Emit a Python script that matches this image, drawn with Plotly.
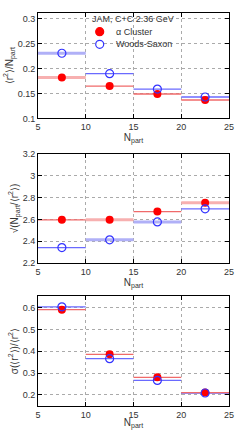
import plotly.graph_objects as go

bin_edges = [5, 10, 15, 20, 25]
centers = [7.5, 12.5, 17.5, 22.5]

r2_alpha = [0.182, 0.165, 0.149, 0.137]
r2_ws = [0.231, 0.190, 0.159, 0.143]
sq_alpha = [2.596, 2.596, 2.672, 2.752]
sq_ws = [2.341, 2.412, 2.577, 2.697]
sig_alpha = [0.592, 0.386, 0.280, 0.210]
sig_ws = [0.605, 0.366, 0.266, 0.208]

legend_labels = ["α Cluster", "Woods-Saxon"]
header = "JAM, C+C 2.36 GeV"

# which bins get the pale wide band (per panel, per series)
pale = {
    (1, "a"): [1, 0, 0, 0], (1, "w"): [1, 0, 0, 0],
    (2, "a"): [0, 1, 0, 1], (2, "w"): [0, 1, 1, 0],
    (3, "a"): [0, 0, 0, 0], (3, "w"): [0, 0, 0, 0],
}

RED = "#ff0000"
BLUE = "#3333ff"
RED_L = "#f06a6a"
BLUE_L = "#6a6aff"
RED_P = "#f7b0b0"
BLUE_P = "#b0b0f7"

fig = go.Figure()

panels = [
    (1, r2_alpha, r2_ws),
    (2, sq_alpha, sq_ws),
    (3, sig_alpha, sig_ws),
]

for p, ya, yw in panels:
    xa = "x" if p == 1 else f"x{p}"
    ya_ax = "y" if p == 1 else f"y{p}"
    for key, vals, cthin, cpale in [("w", yw, BLUE_L, BLUE_P), ("a", ya, RED_L, RED_P)]:
        for i in range(4):
            isp = pale[(p, key)][i]
            fig.add_trace(go.Scatter(
                x=[bin_edges[i], bin_edges[i + 1]], y=[vals[i], vals[i]],
                mode="lines", line=dict(color=cpale if isp else cthin, width=3 if isp else 1.3),
                xaxis=xa, yaxis=ya_ax, showlegend=False, hoverinfo="skip"))
    fig.add_trace(go.Scatter(
        x=centers, y=ya, mode="markers", xaxis=xa, yaxis=ya_ax,
        marker=dict(color=RED, size=8, symbol="circle"),
        name=legend_labels[0], showlegend=False))
    fig.add_trace(go.Scatter(
        x=centers, y=yw, mode="markers", xaxis=xa, yaxis=ya_ax,
        marker=dict(color=BLUE, size=8, symbol="circle-open", line=dict(color=BLUE, width=1.2)),
        name=legend_labels[1], showlegend=False))

W, H = 244, 430
ML, MR, MT, MB = 38.3, 244 - 229.3, 13, 430 - 405.7
PH = H - MT - MB
PW = W - ML - MR


def ydom(top_px, bot_px):
    return [(H - MB - bot_px) / PH, (H - MB - top_px) / PH]


def px2paper(xp, yp):
    return (xp - ML) / PW, (H - MB - yp) / PH


ydoms = {
    1: ydom(13, 118.3),
    2: ydom(154, 262.7),
    3: ydom(296, 405.7),
}
yranges = {1: [0.1, 0.312], 2: [2.2, 3.2], 3: [0.148, 0.654]}
ydticks = {1: 0.05, 2: 0.2, 3: 0.1}
ytitles = {
    1: "⟨r<sup>2</sup>⟩/N<sub>part</sub>",
    2: "√(N<sub>part</sub>/⟨r<sup>2</sup>⟩)",
    3: "σ(⟨r<sup>2</sup>⟩)/⟨r<sup>2</sup>⟩",
}

tickfont = dict(family="Liberation Sans, Arial", size=9, color="#333333")
axcommon = dict(showline=True, linecolor="black", linewidth=1, mirror="ticks",
                ticks="inside", ticklen=4, tickcolor="black",
                showgrid=True, gridcolor="#aaaaaa", griddash="dot", gridwidth=1,
                zeroline=False, tickfont=tickfont, automargin=False)

layout = dict(
    width=W, height=H, margin=dict(l=ML, r=MR, t=MT, b=MB, pad=0),
    paper_bgcolor="white", plot_bgcolor="white",
    font=dict(family="Liberation Sans, Arial", size=9, color="#333333"),
    showlegend=False,
)
for p in (1, 2, 3):
    xk = "xaxis" if p == 1 else f"xaxis{p}"
    yk = "yaxis" if p == 1 else f"yaxis{p}"
    anchor_x = "y" if p == 1 else f"y{p}"
    anchor_y = "x" if p == 1 else f"x{p}"
    layout[xk] = dict(domain=[0, 1], range=[5, 25], dtick=5, anchor=anchor_x,
                      title=dict(text="N<sub>part</sub>", standoff=0, font=dict(size=10)),
                      **axcommon)
    layout[yk] = dict(domain=ydoms[p], range=yranges[p], dtick=ydticks[p], anchor=anchor_y,
                      title=dict(text=ytitles[p], standoff=2, font=dict(size=10)),
                      **axcommon)

fig.update_layout(**layout)

# header and legend (manual, ROOT-like compact spacing)
hx, hy = px2paper(90, 19)
fig.add_annotation(text=header, x=hx, y=hy, xref="paper", yref="paper",
                   xanchor="left", yanchor="middle", showarrow=False,
                   font=dict(size=9, color="#333333"))
R = 4.0  # legend symbol radius in px
for label, filled, col, yp in [(legend_labels[0], True, RED, 31.7),
                               (legend_labels[1], False, BLUE, 44.3)]:
    x0, y0 = px2paper(100 - R, yp + R)
    x1, y1 = px2paper(100 + R, yp - R)
    fig.add_shape(type="circle", xref="paper", yref="paper", x0=x0, y0=y0, x1=x1, y1=y1,
                  fillcolor=col if filled else "white", line=dict(color=col, width=1.2))
    tx, ty = px2paper(114, yp)
    fig.add_annotation(text=label, x=tx, y=ty, xref="paper", yref="paper",
                       xanchor="left", yanchor="middle", showarrow=False,
                       font=dict(size=9, color="#333333"))

fig.write_html("out.html", config={"displayModeBar": False},
               post_script="document.body.style.margin='0px';")
